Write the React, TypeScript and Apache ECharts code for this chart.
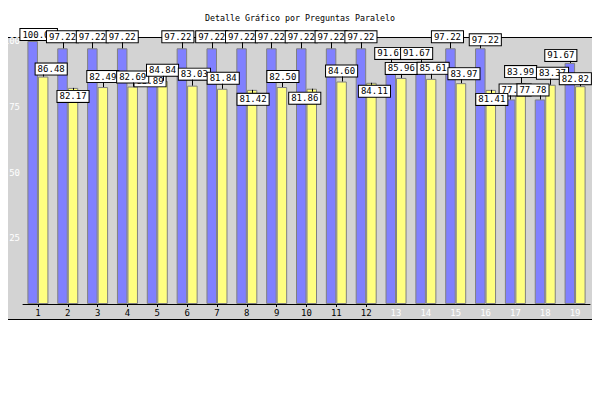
import React, { useEffect, useRef } from "react";
import * as echarts from "echarts";

const categories = ["1","2","3","4","5","6","7","8","9","10","11","12","13","14","15","16","17","18","19"];
const blueValues = [100.0, 97.22, 97.22, 97.22, 83.89, 97.22, 97.22, 97.22, 97.22, 97.22, 97.22, 97.22, 91.67, 91.67, 97.22, 97.22, 77.78, 77.78, 91.67];
const yellowValues = [86.48, 82.17, 82.49, 82.69, 84.84, 83.03, 81.84, 81.42, 82.5, 81.86, 84.6, 84.11, 85.96, 85.61, 83.97, 81.41, 83.99, 83.37, 82.82];
const yTicks = [0, 25, 50, 75, 100];
const title = "Detalle Gráfico por Preguntas Paralelo";

// label nudges (layout only), [dx, dy] relative to a top label
const blueNudge: [number, number][] = [
  [6, 3], [0, -2], [0, -2], [0, -2], [-2, 7], [-4, -2], [0, -2], [0, -2], [0, -2], [0, -2],
  [0, -2], [0, -2], [0, 0], [-4, 0], [-3, -2], [5, 1], [5, 0], [-7, 0], [-9, 2],
];
const yellowNudge: [number, number][] = [
  [8, 2], [0, 18], [0, -1], [0, 0], [0, -1], [2, -2], [1, -1], [1, 19], [1, -1], [-7, 19],
  [0, -1], [3, 18], [0, 0], [2, -1], [3, 0], [1, 19], [0, -2], [2, -2], [-5, 2],
];

const MONO = "DejaVu Sans Mono";
const BAR_W = 10.5;
const LABEL_DIST = 4;
const BOX_H = 12;

const labelBase = {
  show: true,
  position: "top" as const,
  distance: LABEL_DIST,
  color: "#000",
  fontFamily: MONO,
  fontSize: 9,
  lineHeight: 9,
  backgroundColor: "#ffffff",
  borderColor: "#000000",
  borderWidth: 1,
  padding: [1, 2],
  formatter: (p: any) => Number(p.value).toFixed(2),
};

export default function App() {
  const ref = useRef<HTMLDivElement>(null);
  useEffect(() => {
    if (!ref.current) return;
    const chart = echarts.init(ref.current, null, { renderer: "svg" });
    const mk = (vals: number[], nudges: [number, number][]) =>
      vals.map((v, i) => ({ value: v, label: { offset: nudges[i] } }));

    const leader = (vals: number[], nudges: [number, number][], side: number) => ({
      type: "custom",
      silent: true,
      z: 3,
      data: vals.map((v, i) => [i, v]),
      renderItem: (params: any, api: any) => {
        const i = api.value(0);
        const pt = api.coord([i, api.value(1)]);
        const x = Math.round(pt[0] + side * BAR_W / 2) + 0.5;
        const top = pt[1];
        const dy = nudges[i][1];
        const boxBottom = top - LABEL_DIST + dy;
        let y2: number;
        if (boxBottom - BOX_H > top) y2 = boxBottom - BOX_H;
        else if (boxBottom < top) y2 = boxBottom;
        else return null;
        return {
          type: "line",
          shape: { x1: x, y1: top, x2: x, y2 },
          style: { stroke: "#000", lineWidth: 1 },
        };
      },
    });

    chart.setOption({
      animation: false,
      backgroundColor: "#ffffff",
      title: {
        text: title,
        left: "center",
        top: 9,
        textStyle: { fontFamily: MONO, fontSize: 8.3, fontWeight: "normal", color: "#000" },
      },
      graphic: [
        {
          type: "rect",
          z: -10,
          silent: true,
          shape: { x: 5.5, y: 37.5, width: 589, height: 282 },
          style: { fill: "#d3d3d3", stroke: "#000", lineWidth: 1 },
        },
      ],
      grid: { left: 23, right: 10, top: 41, bottom: 96, containLabel: false },
      xAxis: {
        type: "category",
        data: categories,
        axisLine: { show: true, lineStyle: { color: "#000", width: 1 } },
        axisTick: {
          show: true,
          alignWithLabel: true,
          length: 3,
          lineStyle: { color: "#000" },
          interval: (index: number) => index < 12,
        },
        axisLabel: {
          margin: 4,
          fontFamily: MONO,
          fontSize: 9,
          color: (_v: any, index: number) => (index < 12 ? "#000000" : "#ffffff"),
        },
        splitLine: { show: false },
      },
      yAxis: {
        type: "value",
        min: yTicks[0],
        max: yTicks[yTicks.length - 1],
        interval: 25,
        axisLine: { show: false },
        axisTick: { show: false },
        splitLine: { show: false },
        axisLabel: {
          margin: 3,
          fontFamily: MONO,
          fontSize: 9,
          color: "#ffffff",
          showMinLabel: false,
          formatter: (v: number) => (v === 0 ? "" : String(v)),
        },
      },
      series: [
        {
          type: "bar",
          data: mk(blueValues, blueNudge),
          barWidth: BAR_W,
          barGap: "0%",
          itemStyle: { color: "#8080ff", borderColor: "#808080", borderWidth: 1 },
          label: labelBase,
        },
        {
          type: "bar",
          data: mk(yellowValues, yellowNudge),
          barWidth: BAR_W,
          barGap: "0%",
          itemStyle: { color: "#ffff80", borderColor: "#808080", borderWidth: 1 },
          label: labelBase,
        },
        leader(blueValues, blueNudge, -1),
        leader(yellowValues, yellowNudge, 1),
      ],
    });
    return () => chart.dispose();
  }, []);
  return <div ref={ref} style={{ width: 600, height: 400, margin: -8 }} />;
}
